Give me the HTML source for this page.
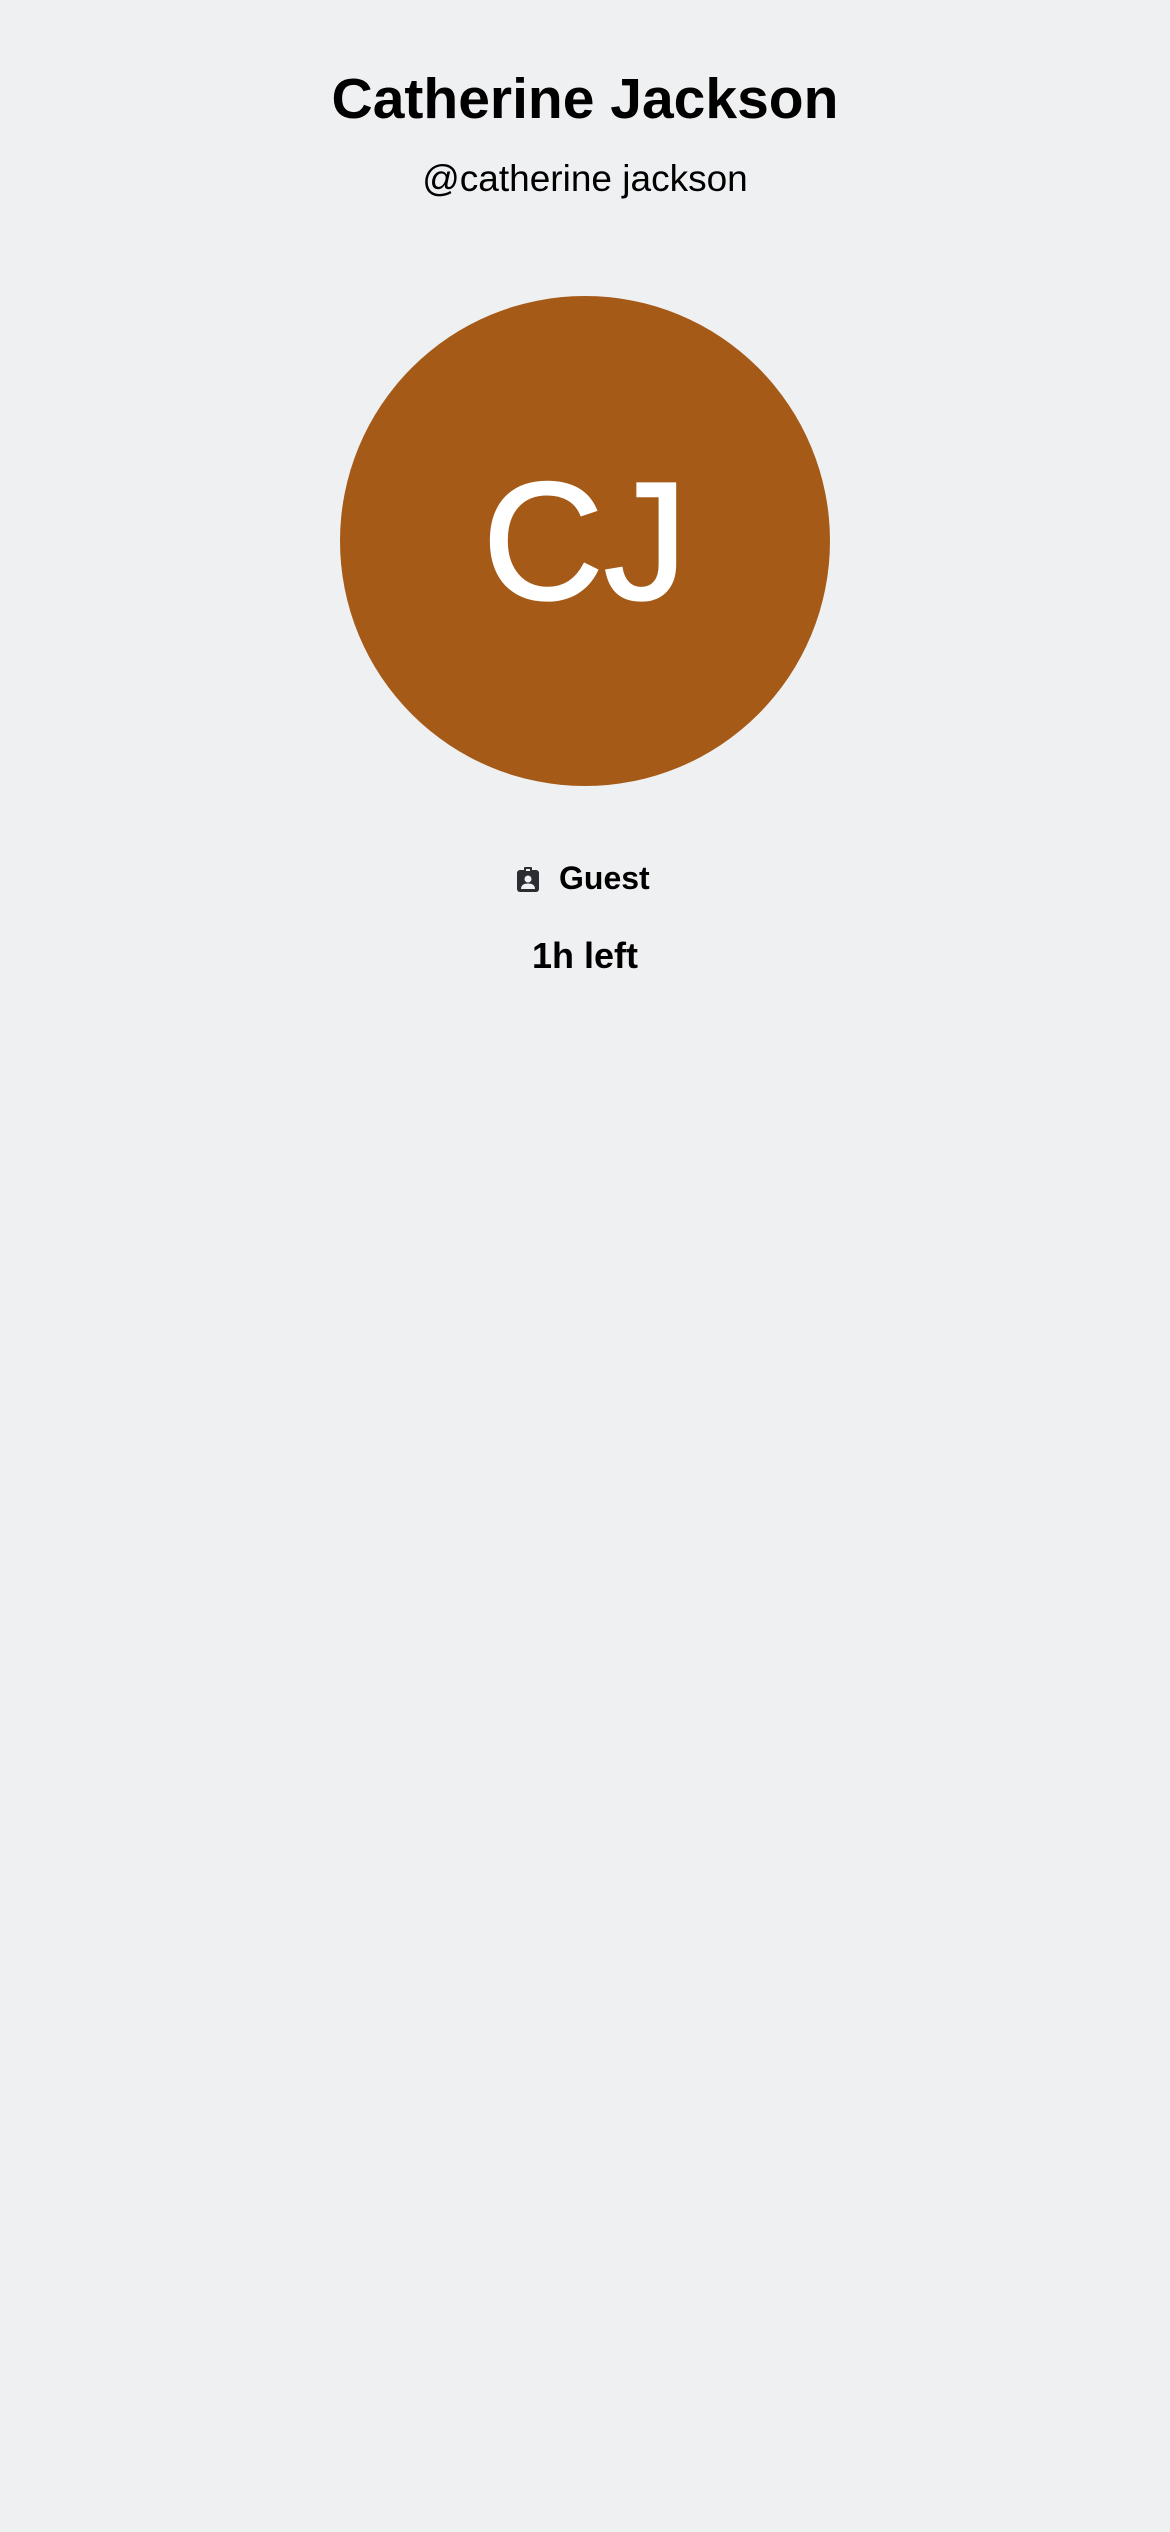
<!DOCTYPE html>
<html><head><meta charset="utf-8"><style>
html,body{margin:0;padding:0;}
body{width:1170px;height:2532px;background:#eff0f2;font-family:"Liberation Sans",sans-serif;color:#000;position:relative;overflow:hidden;}
.c{position:absolute;left:0;width:1170px;text-align:center;white-space:nowrap;}
</style></head><body>
<div class="c" style="top:64px;font-size:57px;font-weight:bold;line-height:70px;">Catherine Jackson</div>
<div class="c" style="top:157px;font-size:37px;line-height:44px;">@catherine jackson</div>
<div style="position:absolute;left:340px;top:296px;width:490px;height:490px;border-radius:50%;background:#a55a17;color:#fff;font-size:168px;line-height:490px;text-align:center;-webkit-text-stroke:2px #fff;">CJ</div>
<div style="position:absolute;left:0;width:1170px;top:858px;height:40px;">
 <svg style="position:absolute;left:517px;top:9px" width="22" height="25" viewBox="0 0 22 25"><rect x="0" y="3" width="22" height="22" rx="3" fill="#2b2d33"/><rect x="7" y="0" width="8" height="5" rx="1" fill="#2b2d33"/><rect x="9" y="2" width="4" height="2" fill="#eff0f2"/><circle cx="11" cy="12" r="3.5" fill="#eff0f2"/><path d="M4 22c0-4 3-5.5 7-5.5s7 1.5 7 5.5z" fill="#eff0f2"/></svg>
 <div style="position:absolute;left:559px;top:0;font-size:32px;font-weight:bold;line-height:40px;">Guest</div>
</div>
<div class="c" style="top:934px;font-size:36px;font-weight:bold;line-height:44px;">1h left</div>
</body></html>
